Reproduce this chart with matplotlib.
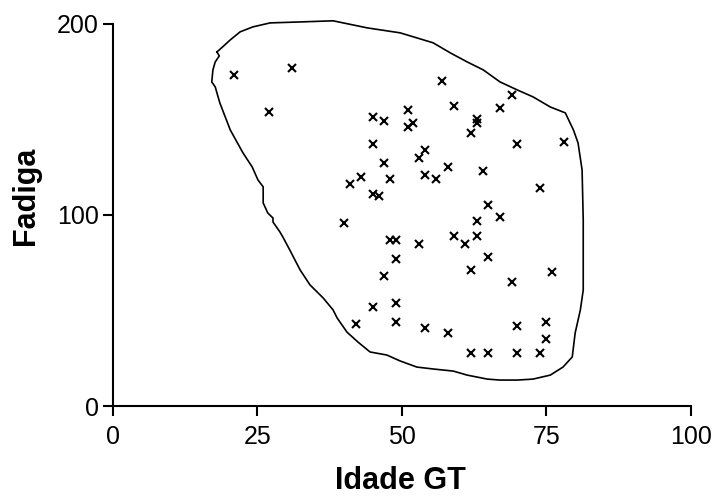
import matplotlib
matplotlib.use("Agg")
import matplotlib.pyplot as plt

plt.rcParams['font.family'] = ['Liberation Sans', 'DejaVu Sans']

# individual observations
idade = [21, 31, 27, 45, 47, 45, 47, 43, 41, 48, 45, 46,
         57, 51, 59, 69, 67, 51, 52, 63, 63, 62, 70, 78,
         54, 53, 58, 54, 56, 64, 74, 65, 67, 63, 40, 48,
         49, 53, 49, 47, 49, 45, 49, 42, 54, 58, 59, 61,
         63, 65, 62, 69, 76, 70, 75, 75, 62, 65, 70, 74]
fadiga = [173, 177, 154, 151, 149, 137, 127, 120, 116, 119, 111, 110,
          170, 155, 157, 163, 156, 146, 148, 150, 148, 143, 137, 138,
          134, 130, 125, 121, 119, 123, 114, 105, 99, 97, 96, 87,
          87, 85, 77, 68, 54, 52, 44, 43, 41, 38, 89, 85,
          89, 78, 71, 65, 70, 42, 44, 35, 28, 28, 28, 28]

# hand-drawn outline around the cloud of points
env_x = [18.0, 19.0, 20.3, 22.0, 24.2, 27.2, 32.4, 38.1, 44.0, 49.7,
         55.4, 58.4, 61.3, 64.1, 67.0, 70.0, 72.7, 75.7, 78.3, 79.7,
         80.5, 81.2, 81.4, 81.4, 80.9, 80.0, 79.5, 77.9, 75.7, 72.7,
         70.0, 67.0, 64.8, 61.3, 58.9, 55.4, 52.6, 49.7, 47.4, 44.5,
         42.4, 40.5, 38.8, 38.1, 36.4, 34.1, 32.4, 30.6, 29.4, 28.9,
         27.7, 27.7, 26.8, 26.0, 26.0, 25.1, 24.1, 22.5, 20.3, 18.5,
         17.7, 17.1, 17.3, 17.7, 18.4, 18.0]
env_y = [185.3, 188.0, 191.6, 195.8, 198.4, 200.5, 201.0, 201.6, 197.9, 195.3,
         190.1, 184.8, 180.1, 175.9, 169.6, 165.4, 161.8, 156.5, 153.4, 144.5,
         137.7, 123.6, 97.4, 60.7, 50.3, 38.2, 25.7, 20.4, 16.2, 14.1,
         13.6, 13.6, 14.1, 16.2, 18.3, 19.4, 20.4, 23.6, 26.7, 28.3,
         33.5, 38.7, 46.1, 50.3, 56.5, 63.4, 71.2, 81.7, 88.5, 91.1,
         96.3, 98.4, 101.0, 106.3, 114.7, 118.3, 125.1, 132.5, 144.5, 158.6,
         167.0, 169.6, 175.9, 180.1, 183.2, 185.3]

xticks = [0, 25, 50, 75, 100]
yticks = [0, 100, 200]

fig = plt.figure(figsize=(7.15, 4.97), dpi=100)
ax = fig.add_axes([0.158, 0.183, 0.808, 0.769])

ax.plot(env_x, env_y, color='black', lw=1.2, solid_joinstyle='round', clip_on=False)
ax.plot(idade, fadiga, 'x', color='black', ms=5.5, mew=1.5, clip_on=False)

ax.set_xlim(0, 100)
ax.set_ylim(0, 200)
ax.set_xticks(xticks)
ax.set_yticks(yticks)
for s in ['top', 'right']:
    ax.spines[s].set_visible(False)
for s in ['left', 'bottom']:
    ax.spines[s].set_linewidth(1.5)
ax.tick_params(direction='out', length=7, width=1.5, labelsize=18)
ax.tick_params(axis='x', pad=7)
ax.tick_params(axis='y', pad=3)

ax.set_xlabel('Idade GT', fontsize=22, fontweight='bold')
ax.set_ylabel('Fadiga', fontsize=22, fontweight='bold')
ax.xaxis.set_label_coords(0.498, -0.158)
ax.yaxis.set_label_coords(-0.125, 0.55)

fig.savefig('out.png', dpi=100)
